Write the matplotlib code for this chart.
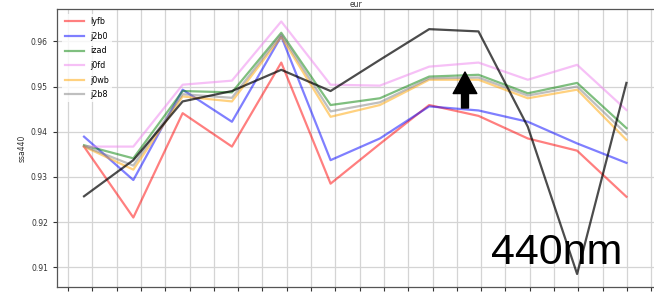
# -*- coding: utf-8 -*-
"""
ssa440 por modelo (eur) - recriacao do grafico
"""
import numpy as np
import matplotlib
matplotlib.use("Agg")
import matplotlib.pyplot as plt

# ---------------------------------------------------------------------------
# dados
# ---------------------------------------------------------------------------
pontos = list(range(12))

lyfb = [0.9367, 0.9210, 0.9441, 0.9367, 0.9553, 0.9285, 0.9373, 0.9459, 0.9435, 0.9385, 0.9358, 0.9256]
j2b0 = [0.9389, 0.9293, 0.9493, 0.9422, 0.9611, 0.9337, 0.9385, 0.9456, 0.9447, 0.9422, 0.9374, 0.9331]
izad = [0.9370, 0.9341, 0.9490, 0.9487, 0.9619, 0.9459, 0.9474, 0.9522, 0.9526, 0.9485, 0.9508, 0.9408]
j0fd = [0.9367, 0.9367, 0.9504, 0.9513, 0.9644, 0.9504, 0.9502, 0.9544, 0.9553, 0.9515, 0.9548, 0.9448]
j0wb = [0.9367, 0.9316, 0.9478, 0.9467, 0.9610, 0.9433, 0.9459, 0.9515, 0.9515, 0.9474, 0.9493, 0.9382]
j2b8 = [0.9368, 0.9325, 0.9483, 0.9475, 0.9615, 0.9445, 0.9465, 0.9518, 0.9520, 0.9480, 0.9500, 0.9395]
# linha preta sem legenda (observacao)
obs = [0.9257, 0.9337, 0.9467, 0.9490, 0.9537, 0.9490, 0.9559, 0.9627, 0.9622, 0.9411, 0.9085, 0.9508]

series = [
    ("lyfb", lyfb, "red"),
    ("j2b0", j2b0, "blue"),
    ("izad", izad, "green"),
    ("j0fd", j0fd, "violet"),
    ("j0wb", j0wb, "orange"),
    ("j2b8", j2b8, "grey"),
]
yticks = [0.91, 0.92, 0.93, 0.94, 0.95, 0.96]

# ---------------------------------------------------------------------------
# figura
# ---------------------------------------------------------------------------
W, H = 654, 297
fig = plt.figure(figsize=(W / 100, H / 100), dpi=100)
# eixo vai ate a borda direita (cortado como no original)
ax = fig.add_axes([57 / W, 10 / H, (656 - 57) / W, (288 - 10) / H])

for nome, vals, cor in series:
    ax.plot(pontos, vals, color=cor, alpha=0.5, linewidth=1.6, label=nome)
ax.plot(pontos, obs, color="black", alpha=0.7, linewidth=1.6)

ax.set_xlim(-0.548, 11.6)
ax.set_ylim(0.90562, 0.96716)
ax.set_xticks(np.arange(-0.3245, 11.6, 0.4929))
ax.set_xticklabels([])
ax.set_yticks(yticks)
ax.set_yticklabels([f"{v:.2f}" for v in yticks])
ax.tick_params(axis="both", labelsize=5.5, length=3, width=0.8, colors="#333333")
ax.grid(True, color="#d4d4d4", linewidth=0.9)
for s in ax.spines.values():
    s.set_color("#555555")
    s.set_linewidth(0.9)

ax.set_ylabel("ssa440", fontsize=5.5, color="#333333", labelpad=3)
ax.set_title("eur", fontsize=5.5, color="#333333", pad=1.5)

ax.legend(loc="upper left", fontsize=5.8, handlelength=2.3, labelspacing=0.7,
          frameon=True, framealpha=0.8, edgecolor="none", borderaxespad=0.6)

# seta e rotulo 440nm
ax.annotate("", xy=(465, H - 72), xytext=(465, H - 108),
            xycoords="figure pixels", textcoords="figure pixels",
            arrowprops=dict(arrowstyle="simple,head_length=1.55,head_width=1.7,tail_width=0.5",
                            mutation_scale=10, color="black", shrinkA=0, shrinkB=0))
fig.text(491 / W, (H - 264) / H, "440nm", fontsize=31, family="Liberation Sans",
         color="black", ha="left", va="baseline")

plt.savefig("out.png", dpi=100)
plt.close()
